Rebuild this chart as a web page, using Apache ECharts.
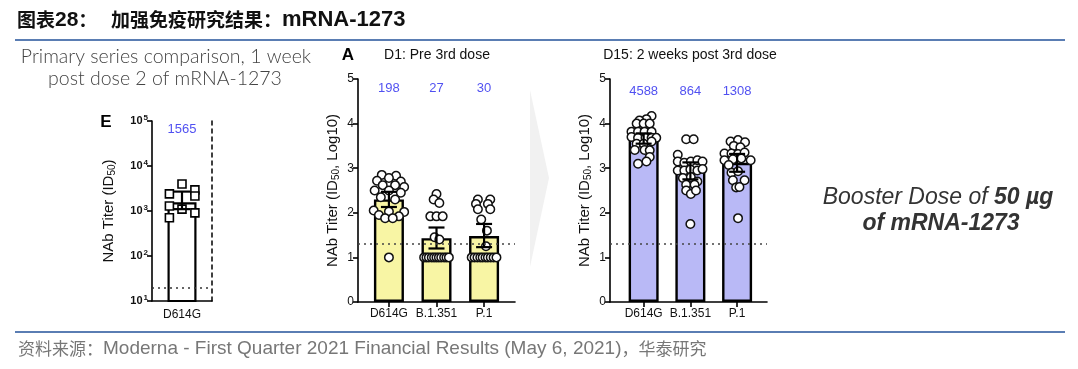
<!DOCTYPE html>
<html><head><meta charset="utf-8">
<script src="https://cdn.jsdelivr.net/npm/echarts@6/dist/echarts.min.js"></script>
<style>html,body{margin:0;padding:0;background:#fff}#c{width:1078px;height:369px}</style>
</head><body><div id="c"></div>
<script>
// ---------- DATA ----------
const categories = ['D614G', 'B.1.351', 'P.1'];
const yTicksLinear = [0, 1, 2, 3, 4, 5];

// Panel E: primary series, 1 week post dose 2 (NAb titer ID50, log scale)
const eCategory = ['D614G'];
const eGmt = [1565];
const eErrLow = [1100];
const eErrHigh = [2700];
// [jitter (category units), titer]
const ePoints = [[0.0, 3980], [-0.42, 2400], [0.43, 2950], [0.43, 2150], [-0.42, 1290], [0.0, 1100], [0.43, 910], [-0.42, 710]];
const eLimit = 20;

// Panel A: D1, pre 3rd dose (log10 ID50)
const d1Gmt = [198, 27, 30];
const d1Bars = [2.30, 1.43, 1.48];
const d1ErrLow = [2.13, 1.20, 1.23];
const d1ErrHigh = [2.47, 1.67, 1.75];
// [category index, jitter, log10 titer]
const d1Points = [
  [0,-0.15,2.85],[0,0.15,2.83],[0,0,2.78],[0,-0.25,2.72],[0,0.25,2.70],[0,-0.13,2.62],[0,0.13,2.62],[0,0.32,2.58],
  [0,-0.30,2.50],[0,0,2.50],[0,0.25,2.45],[0,-0.17,2.35],[0,0.13,2.30],[0,-0.32,2.05],[0,0,2.03],[0,0.32,2.02],
  [0,-0.21,1.95],[0,0.21,1.92],[0,-0.08,1.88],[0,0.08,1.88],[0,0,1.0],
  [1,0,2.42],[1,-0.06,2.30],[1,0.06,2.22],[1,-0.13,1.92],[1,0,1.92],[1,0.13,1.92],[1,-0.04,1.45],[1,0.06,1.40],
  [1,-0.26,1.0],[1,-0.21,1.0],[1,-0.16,1.0],[1,-0.10,1.0],[1,-0.05,1.0],[1,0,1.0],[1,0.05,1.0],[1,0.10,1.0],[1,0.16,1.0],[1,0.21,1.0],[1,0.26,1.0],
  [2,-0.13,2.30],[2,0.13,2.30],[2,-0.17,2.20],[2,0.08,2.20],[2,-0.13,2.08],[2,0.13,2.08],[2,-0.06,1.85],[2,0.06,1.60],[2,0.04,1.25],
  [2,-0.26,1.0],[2,-0.20,1.0],[2,-0.14,1.0],[2,-0.08,1.0],[2,-0.03,1.0],[2,0.03,1.0],[2,0.08,1.0],[2,0.14,1.0],[2,0.20,1.0],[2,0.26,1.0]
];

// Panel D15: 2 weeks post 3rd dose (log10 ID50)
const d15Gmt = [4588, 864, 1308];
const d15Bars = [3.66, 2.94, 3.12];
const d15ErrLow = [3.55, 2.75, 2.92];
const d15ErrHigh = [3.78, 3.13, 3.32];
const d15Points = [
  [0,0.17,4.17],[0,0.06,4.10],[0,-0.09,4.07],[0,-0.15,4.0],[0,0,4.0],[0,0.13,4.0],
  [0,-0.26,3.82],[0,-0.12,3.82],[0,0.02,3.82],[0,0.17,3.82],
  [0,-0.26,3.70],[0,-0.12,3.68],[0,0.04,3.68],[0,0.17,3.68],[0,0.27,3.68],
  [0,-0.15,3.55],[0,0,3.55],[0,0.17,3.60],[0,-0.19,3.41],[0,0.02,3.41],[0,0.13,3.40],
  [0,0.13,3.25],[0,0.06,3.15],[0,-0.12,3.10],
  [1,-0.09,3.65],[1,0.07,3.65],[1,-0.27,3.30],
  [1,-0.27,3.15],[1,-0.13,3.12],[1,0.01,3.15],[1,0.15,3.18],[1,0.26,3.15],
  [1,-0.27,2.95],[1,-0.13,2.95],[1,0,2.97],[1,0.15,2.95],[1,0.26,2.98],
  [1,-0.16,2.78],[1,0.01,2.80],[1,0.15,2.70],[1,-0.09,2.63],[1,0.09,2.63],
  [1,-0.09,2.50],[1,0.01,2.42],[1,0.12,2.50],[1,0,1.75],
  [2,-0.14,3.60],[2,0.02,3.63],[2,0.17,3.58],[2,-0.07,3.50],[2,0.07,3.47],
  [2,-0.27,3.33],[2,-0.12,3.33],[2,0.02,3.32],[2,0.16,3.35],
  [2,-0.27,3.18],[2,-0.09,3.20],[2,0.09,3.22],[2,0.29,3.18],[2,-0.18,3.07],
  [2,-0.12,2.90],[2,0.02,2.93],[2,-0.09,2.73],[2,0.16,2.73],[2,-0.02,2.57],[2,0.05,2.58],[2,0.02,1.88]
];
const limitLog = 1.3;

// ---------- CHART ----------
const FONT = 'Liberation Sans, Arial, sans-serif';
const CJK = '"Noto Sans CJK SC", sans-serif';
const chart = echarts.init(document.getElementById('c'), null, {renderer: 'canvas'});

const axisLineStyle = {color: '#000', width: 1.6};
const nameRich = {s: {fontSize: 10, fontFamily: FONT, color: '#111', padding: [7, 0, 0, 0]}};

function errRender(capHalf) {
  return function (params, api) {
    const x = api.value(0), lo = api.value(1), hi = api.value(2);
    const a = api.coord([x, lo]), b = api.coord([x, hi]);
    const st = {stroke: '#000', lineWidth: 2.2};
    return {type: 'group', children: [
      {type: 'line', shape: {x1: a[0], y1: a[1], x2: b[0], y2: b[1]}, style: st},
      {type: 'line', shape: {x1: a[0] - capHalf, y1: a[1], x2: a[0] + capHalf, y2: a[1]}, style: st},
      {type: 'line', shape: {x1: b[0] - capHalf, y1: b[1], x2: b[0] + capHalf, y2: b[1]}, style: st}
    ]};
  };
}

function linearX(gi, min, max) {
  return {gridIndex: gi, type: 'value', min: min, max: max,
    axisLine: {show: true, onZero: false, lineStyle: axisLineStyle},
    axisTick: {show: true, length: 5, lineStyle: axisLineStyle, customValues: [0, 1, 2]},
    axisLabel: {color: '#111', fontSize: 12, fontFamily: FONT, margin: 6, customValues: [0, 1, 2],
      formatter: v => categories[Math.round(v)]},
    splitLine: {show: false}};
}
function linearY(gi) {
  return {gridIndex: gi, type: 'value', min: yTicksLinear[0], max: yTicksLinear[yTicksLinear.length - 1], interval: 1,
    axisLine: {show: true, onZero: false, lineStyle: axisLineStyle},
    axisTick: {show: true, length: 5, lineStyle: axisLineStyle},
    axisLabel: {color: '#111', fontSize: 12, fontFamily: FONT, margin: 4},
    splitLine: {show: false},
    name: 'NAb Titer (ID{s|50}, Log10)', nameLocation: 'middle', nameRotate: 90, nameGap: 17,
    nameTextStyle: {fontSize: 15, color: '#111', fontFamily: FONT, rich: nameRich}};
}

const LABEL_Y_A = 4.78, LABEL_Y_D = 4.72, LABEL_Y_E = 66000;
const BLUE = '#2424ee';

const option = {
  animation: false,
  backgroundColor: '#fff',
  grid: [
    {left: 152, top: 121, width: 60, height: 180},
    {left: 358, top: 79, width: 157, height: 223},
    {left: 610, top: 79, width: 157, height: 223}
  ],
  xAxis: [
    {gridIndex: 0, type: 'value', min: -1, max: 1,
      axisLine: {show: true, onZero: false, lineStyle: axisLineStyle},
      axisTick: {show: false},
      axisLabel: {color: '#111', fontSize: 12, fontFamily: FONT, margin: 8, customValues: [0],
        formatter: v => eCategory[Math.round(v)]},
      splitLine: {show: false}},
    linearX(1, -0.65, 2.65),
    linearX(2, -0.72, 2.64)
  ],
  yAxis: [
    {gridIndex: 0, type: 'log', logBase: 10, min: 10, max: 100000,
      axisLine: {show: true, onZero: false, lineStyle: axisLineStyle},
      axisTick: {show: true, length: 5, lineStyle: axisLineStyle},
      axisLabel: {margin: 4,
        formatter: v => '{b|10}{e|' + Math.round(Math.log10(v)) + '}',
        rich: {b: {fontSize: 11, fontWeight: 'bold', fontFamily: FONT, color: '#111'},
               e: {fontSize: 8, fontWeight: 'bold', fontFamily: FONT, color: '#111', padding: [0, 0, 7, 1]}}},
      splitLine: {show: false}, minorTick: {show: false},
      name: 'NAb Titer (ID{s|50})', nameLocation: 'middle', nameRotate: 90, nameGap: 35,
      nameTextStyle: {fontSize: 15, color: '#111', fontFamily: FONT, rich: nameRich}},
    {gridIndex: 0, type: 'value', position: 'right', min: 0, max: 1,
      axisLine: {show: true, onZero: false, lineStyle: {color: '#000', width: 1.5, type: [4, 4]}},
      axisTick: {show: false}, axisLabel: {show: false}, splitLine: {show: false}},
    linearY(1),
    linearY(2)
  ],
  series: [
    // Panel E
    {type: 'bar', xAxisIndex: 0, yAxisIndex: 0, barWidth: 29, z: 2,
      data: eGmt.map((v, i) => [i, v]),
      itemStyle: {color: '#fff', borderColor: '#000', borderWidth: 2.2},
      markLine: {silent: true, symbol: 'none', label: {show: false},
        lineStyle: {color: '#333', type: [2, 4], width: 1.6}, data: [{yAxis: eLimit}]}},
    {type: 'scatter', xAxisIndex: 0, yAxisIndex: 0, symbol: 'rect', symbolSize: 8, z: 3,
      data: ePoints.map(p => [p[0], p[1]]),
      itemStyle: {color: '#fff', borderColor: '#000', borderWidth: 1.6, opacity: 1}},
    {type: 'custom', xAxisIndex: 0, yAxisIndex: 0, z: 4, renderItem: errRender(8),
      data: eGmt.map((v, i) => [i, eErrLow[i], eErrHigh[i]])},
    {type: 'scatter', xAxisIndex: 0, yAxisIndex: 0, symbolSize: 0, z: 5,
      data: eGmt.map((v, i) => [i, LABEL_Y_E, v]),
      label: {show: true, position: 'inside', color: BLUE, fontSize: 13, fontFamily: FONT,
        formatter: p => String(p.value[2])}},

    // Panel A
    {type: 'bar', xAxisIndex: 1, yAxisIndex: 2, barWidth: 30, z: 2,
      data: d1Bars.map((v, i) => [i, v]),
      itemStyle: {color: '#f8f5a4', borderColor: '#000', borderWidth: 2.4},
      markLine: {silent: true, symbol: 'none', label: {show: false},
        lineStyle: {color: '#444', type: [2, 4], width: 1.6}, data: [{yAxis: limitLog}]}},
    {type: 'scatter', xAxisIndex: 1, yAxisIndex: 2, symbol: 'circle', symbolSize: 8.5, z: 3,
      data: d1Points.map(p => [p[0] + p[1], p[2]]),
      itemStyle: {color: '#fff', borderColor: '#111', borderWidth: 1.5, opacity: 1}},
    {type: 'custom', xAxisIndex: 1, yAxisIndex: 2, z: 4, renderItem: errRender(8),
      data: d1Bars.map((v, i) => [i, d1ErrLow[i], d1ErrHigh[i]])},
    {type: 'scatter', xAxisIndex: 1, yAxisIndex: 2, symbolSize: 0, z: 5,
      data: d1Gmt.map((v, i) => [i, LABEL_Y_A, v]),
      label: {show: true, position: 'inside', color: BLUE, fontSize: 13, fontFamily: FONT,
        formatter: p => String(p.value[2])}},

    // Panel D15
    {type: 'bar', xAxisIndex: 2, yAxisIndex: 3, barWidth: 30, z: 2,
      data: d15Bars.map((v, i) => [i, v]),
      itemStyle: {color: '#b9b9f6', borderColor: '#000', borderWidth: 2.4},
      markLine: {silent: true, symbol: 'none', label: {show: false},
        lineStyle: {color: '#444', type: [2, 4], width: 1.6}, data: [{yAxis: limitLog}]}},
    {type: 'scatter', xAxisIndex: 2, yAxisIndex: 3, symbol: 'circle', symbolSize: 8.5, z: 3,
      data: d15Points.map(p => [p[0] + p[1], p[2]]),
      itemStyle: {color: '#fff', borderColor: '#111', borderWidth: 1.5, opacity: 1}},
    {type: 'custom', xAxisIndex: 2, yAxisIndex: 3, z: 4, renderItem: errRender(8),
      data: d15Bars.map((v, i) => [i, d15ErrLow[i], d15ErrHigh[i]])},
    {type: 'scatter', xAxisIndex: 2, yAxisIndex: 3, symbolSize: 0, z: 5,
      data: d15Gmt.map((v, i) => [i, LABEL_Y_D, v]),
      label: {show: true, position: 'inside', color: BLUE, fontSize: 13, fontFamily: FONT,
        formatter: p => String(p.value[2])}}
  ],
  graphic: [
    // arrow chevron
    {type: 'polygon', z: -1, shape: {points: [[530, 90], [549, 178], [530, 267]]}, style: {fill: '#f1f1f1'}},
    // rules
    {type: 'line', shape: {x1: 15, y1: 40, x2: 1065, y2: 40}, style: {stroke: '#5a7db3', lineWidth: 2}},
    {type: 'line', shape: {x1: 15, y1: 332, x2: 1065, y2: 332}, style: {stroke: '#5a7db3', lineWidth: 2}},
    // page title
    {type: 'text', x: 17, y: 20, style: {text: '{c|图表}{l|28}{c|：}', textVerticalAlign: 'middle',
      rich: {c: {font: 'bold 19px ' + CJK, fill: '#111'}, l: {font: 'bold 21px ' + FONT, fill: '#111'}}}},
    {type: 'text', x: 111, y: 20, style: {text: '{c|加强免疫研究结果：}{l|mRNA-1273}', textVerticalAlign: 'middle',
      rich: {c: {font: 'bold 19px ' + CJK, fill: '#111'}, l: {font: 'bold 22px ' + FONT, fill: '#111'}}}},
    // subtitle left
    {type: 'text', x: 166, y: 57, style: {text: 'Primary series comparison, 1 week', font: '300 19.5px Lato, ' + FONT, fill: '#444', textAlign: 'center', textVerticalAlign: 'middle'}},
    {type: 'text', x: 165, y: 79, style: {text: 'post dose 2 of mRNA-1273', font: '300 19.5px Lato, ' + FONT, fill: '#444', textAlign: 'center', textVerticalAlign: 'middle'}},
    // panel letters & titles
    {type: 'text', x: 106, y: 122, style: {text: 'E', font: 'bold 17px ' + FONT, fill: '#000', textAlign: 'center', textVerticalAlign: 'middle'}},
    {type: 'text', x: 348, y: 55, style: {text: 'A', font: 'bold 17px ' + FONT, fill: '#000', textAlign: 'center', textVerticalAlign: 'middle'}},
    {type: 'text', x: 437, y: 55, style: {text: 'D1: Pre 3rd dose', font: '14px ' + FONT, fill: '#111', textAlign: 'center', textVerticalAlign: 'middle'}},
    {type: 'text', x: 690, y: 55, style: {text: 'D15: 2 weeks post 3rd dose', font: '14px ' + FONT, fill: '#111', textAlign: 'center', textVerticalAlign: 'middle'}},
    // right note
    {type: 'text', x: 938, y: 198, style: {text: '{a|Booster Dose of }{b|50 µg}', textAlign: 'center', textVerticalAlign: 'middle',
      rich: {a: {font: 'italic 23px ' + FONT, fill: '#333'}, b: {font: 'italic bold 23px ' + FONT, fill: '#333'}}}},
    {type: 'text', x: 941, y: 224, style: {text: 'of mRNA-1273', font: 'italic bold 23px ' + FONT, fill: '#333', textAlign: 'center', textVerticalAlign: 'middle'}},
    // source
    {type: 'text', x: 18, y: 349, style: {text: '{c|资料来源：}{l|Moderna - First Quarter 2021 Financial Results (May 6, 2021)}{c|，华泰研究}', textVerticalAlign: 'middle',
      rich: {c: {font: '17px ' + CJK, fill: '#777'}, l: {font: '19px ' + FONT, fill: '#777'}}}}
  ]
};
chart.setOption(option);
</script>
</body></html>
